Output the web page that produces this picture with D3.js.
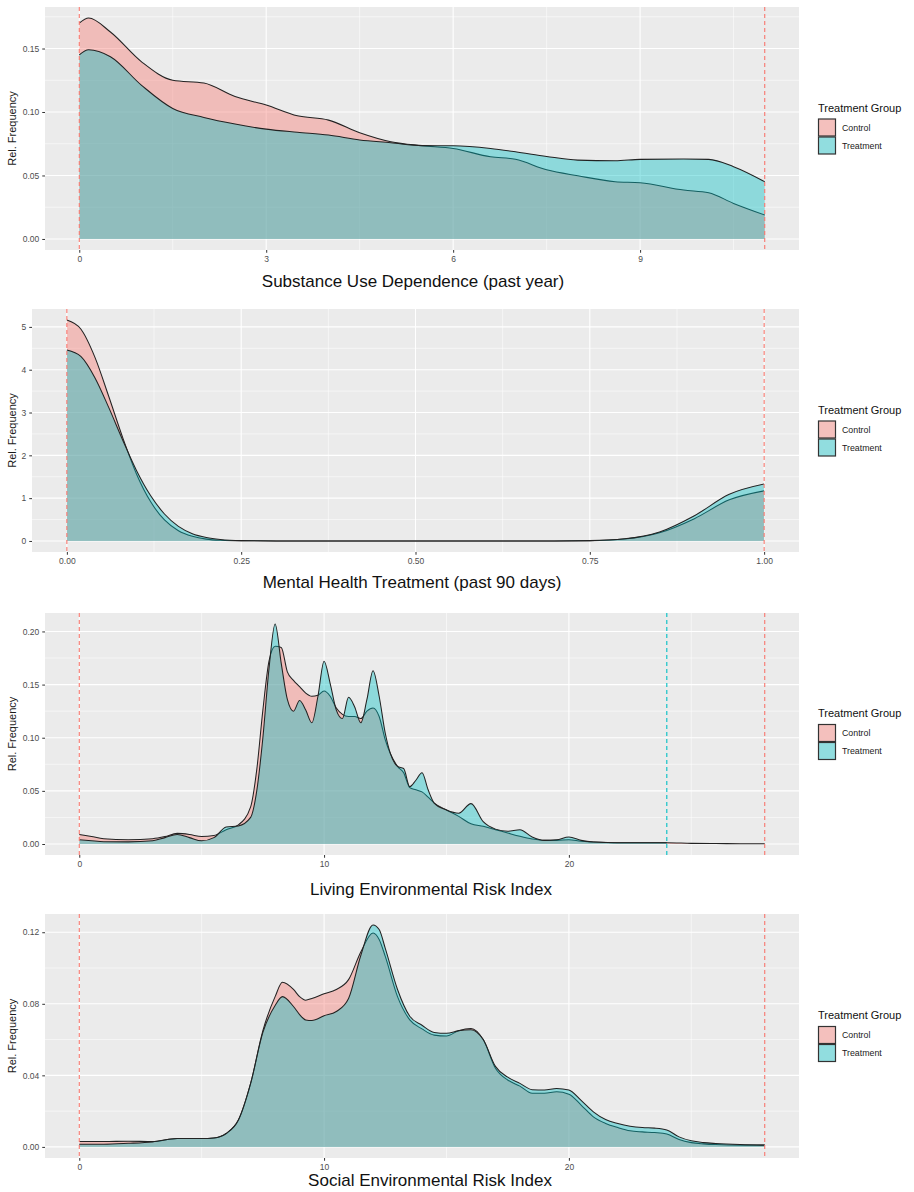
<!DOCTYPE html>
<html lang="en">
<head>
<meta charset="utf-8">
<title>Densities by treatment group</title>
<script src="https://cdn.jsdelivr.net/npm/d3@7"></script>
<style>
  body { margin: 0; background: #fff; }
  svg text { font-family: "Liberation Sans", Arial, Helvetica, sans-serif; }
</style>
</head>
<body>
<script>
// groups
var groups = ["Control", "Treatment"];
var groupColors = ["#F8766D", "#00BFC4"];
var legendTitle = "Treatment Group";
var yTitle = "Rel. Frequency";

// panel 1: substance use
var p1Title = "Substance Use Dependence (past year)";
var p1X = [0, 0.15, 0.5, 1, 1.5, 2, 2.5, 3, 3.5, 4, 4.5, 5, 5.5, 6, 6.6, 7, 7.5, 8, 8.6, 9, 9.7, 10.1, 10.5, 11];
var p1Control = [0.170, 0.174, 0.163, 0.1395, 0.125, 0.1228, 0.1122, 0.1055, 0.097, 0.0936, 0.0837, 0.0766, 0.0735, 0.0713, 0.0647, 0.0627, 0.0545, 0.0498, 0.0451, 0.0443, 0.0385, 0.0364, 0.028, 0.0189];
var p1Treatment = [0.145, 0.149, 0.1435, 0.121, 0.1028, 0.0957, 0.0905, 0.0865, 0.084, 0.0818, 0.0779, 0.0758, 0.0735, 0.0734, 0.0713, 0.0687, 0.065, 0.0621, 0.0616, 0.0627, 0.0629, 0.0627, 0.0569, 0.0451];
var p1XTicks = [0, 3, 6, 9];
var p1XMinor = [1.5, 4.5, 7.5, 10.5];
var p1YTicks = [0, 0.05, 0.10, 0.15];
var p1YMinor = [0.025, 0.075, 0.125, 0.175];

// panel 2: mental health treatment
var p2Title = "Mental Health Treatment (past 90 days)";
var p2X = [0, 0.02, 0.04, 0.06, 0.08, 0.1, 0.12, 0.14, 0.16, 0.18, 0.2, 0.22, 0.25, 0.3, 0.4, 0.5, 0.6, 0.7, 0.75, 0.8, 0.85, 0.9, 0.95, 1];
var p2Control = [5.16, 4.95, 4.3, 3.38, 2.42, 1.56, 0.92, 0.49, 0.24, 0.11, 0.043, 0.016, 0.004, 0.001, 0, 0, 0, 0.001, 0.007, 0.045, 0.19, 0.52, 0.96, 1.17];
var p2Treatment = [4.46, 4.31, 3.82, 3.12, 2.36, 1.64, 1.06, 0.63, 0.34, 0.17, 0.082, 0.035, 0.008, 0.001, 0, 0, 0, 0.001, 0.008, 0.05, 0.21, 0.59, 1.09, 1.33];
var p2XTicks = [0, 0.25, 0.5, 0.75, 1];
var p2XMinor = [0.125, 0.375, 0.625, 0.875];
var p2YTicks = [0, 1, 2, 3, 4, 5];
var p2YMinor = [0.5, 1.5, 2.5, 3.5, 4.5];

// panel 3: living environment
var p3Title = "Living Environmental Risk Index";
var p3X = [0, 0.5, 1, 2, 3, 3.5, 4, 4.5, 5, 5.5, 6, 6.5, 7, 7.25, 7.5, 7.75, 8, 8.25, 8.5, 8.75, 9, 9.25, 9.5, 9.75, 10, 10.25, 10.5, 10.75, 11, 11.25, 11.5, 11.75, 12, 12.25, 12.5, 13, 13.25, 13.5, 13.75, 14, 14.25, 14.5, 15, 15.5, 16, 16.5, 17, 17.5, 18, 18.5, 19, 19.5, 20, 20.5, 21, 22, 23, 24, 25, 26, 27, 28];
var p3Control = [0.009, 0.007, 0.005, 0.004, 0.005, 0.007, 0.010, 0.009, 0.007, 0.008, 0.0135, 0.018, 0.035, 0.07, 0.126, 0.172, 0.186, 0.185, 0.162, 0.154, 0.148, 0.142, 0.139, 0.140, 0.144, 0.139, 0.128, 0.122, 0.120, 0.120, 0.118, 0.125, 0.128, 0.120, 0.098, 0.073, 0.067, 0.053, 0.051, 0.049, 0.044, 0.0385, 0.032, 0.026, 0.019, 0.0166, 0.0135, 0.0103, 0.0072, 0.0047, 0.0034, 0.0034, 0.004, 0.0025, 0.0019, 0.0012, 0.0012, 0.0012, 0.0006, 0.0004, 0.0003, 0.0003];
var p3Treatment = [0.004, 0.003, 0.0022, 0.002, 0.003, 0.006, 0.009, 0.006, 0.003, 0.006, 0.016, 0.017, 0.025, 0.05, 0.10, 0.165, 0.207, 0.170, 0.136, 0.125, 0.135, 0.126, 0.114, 0.139, 0.172, 0.151, 0.126, 0.118, 0.138, 0.129, 0.114, 0.136, 0.163, 0.139, 0.104, 0.073, 0.071, 0.054, 0.060, 0.067, 0.051, 0.0385, 0.032, 0.029, 0.038, 0.021, 0.014, 0.012, 0.0135, 0.0066, 0.0034, 0.004, 0.0066, 0.0034, 0.0019, 0.0012, 0.0012, 0.0012, null, null, null, null];
var p3XTicks = [0, 10, 20];
var p3XMinor = [5, 15, 25];
var p3YTicks = [0, 0.05, 0.10, 0.15, 0.20];
var p3YMinor = [0.025, 0.075, 0.125, 0.175];

// panel 4: social environment
var p4Title = "Social Environmental Risk Index";
var p4X = [0, 1, 2, 3, 4, 5, 5.5, 6, 6.5, 7, 7.5, 8, 8.3, 8.75, 9, 9.25, 9.5, 10, 10.5, 11, 11.5, 12, 12.25, 12.5, 13, 13.5, 14, 14.5, 15, 15.5, 16, 16.5, 17, 17.5, 18, 18.5, 19, 19.5, 20, 20.5, 21, 21.5, 22, 22.5, 23, 23.5, 24, 24.5, 25, 25.5, 26, 27, 28];
var p4Control = [0.003, 0.003, 0.0032, 0.003, 0.0047, 0.0047, 0.005, 0.0075, 0.015, 0.0355, 0.065, 0.084, 0.092, 0.088, 0.084, 0.082, 0.083, 0.0856, 0.088, 0.0935, 0.109, 0.1196, 0.116, 0.1065, 0.084, 0.071, 0.066, 0.0625, 0.062, 0.065, 0.0662, 0.060, 0.044, 0.0374, 0.034, 0.030, 0.030, 0.0308, 0.0295, 0.0234, 0.0168, 0.0131, 0.0108, 0.009, 0.0084, 0.008, 0.0072, 0.0041, 0.0024, 0.0017, 0.0013, 0.001, 0.001];
var p4Treatment = [0.0015, 0.0015, 0.002, 0.0028, 0.0047, 0.0047, 0.005, 0.0075, 0.015, 0.0355, 0.064, 0.079, 0.084, 0.0785, 0.074, 0.071, 0.0707, 0.0733, 0.0757, 0.083, 0.107, 0.124, 0.1215, 0.111, 0.088, 0.073, 0.068, 0.064, 0.0635, 0.065, 0.0655, 0.060, 0.045, 0.039, 0.0355, 0.032, 0.0318, 0.0327, 0.0318, 0.026, 0.0196, 0.0153, 0.0131, 0.0116, 0.0108, 0.0105, 0.0095, 0.0056, 0.0034, 0.0024, 0.0019, 0.0013, 0.001];
var p4XTicks = [0, 10, 20];
var p4XMinor = [5, 15, 25];
var p4YTicks = [0, 0.04, 0.08, 0.12];
var p4YMinor = [0.02, 0.06, 0.10];

var panels = [
  { title: p1Title, x: p1X, series: [p1Control, p1Treatment], xTicks: p1XTicks, xMinor: p1XMinor, yTicks: p1YTicks, yMinor: p1YMinor, xFmt: "d", yFmt: ".2f" },
  { title: p2Title, x: p2X, series: [p2Control, p2Treatment], xTicks: p2XTicks, xMinor: p2XMinor, yTicks: p2YTicks, yMinor: p2YMinor, xFmt: ".2f", yFmt: "d" },
  { title: p3Title, x: p3X, series: [p3Control, p3Treatment], xTicks: p3XTicks, xMinor: p3XMinor, yTicks: p3YTicks, yMinor: p3YMinor, xFmt: "d", yFmt: ".2f" },
  { title: p4Title, x: p4X, series: [p4Control, p4Treatment], xTicks: p4XTicks, xMinor: p4XMinor, yTicks: p4YTicks, yMinor: p4YMinor, xFmt: "d", yFmt: ".2f" }
];

// where each panel sits on the page
var layout = [
  { top: 7, bottom: 250, left: 45, titleX: 413, titleY: 287 },
  { top: 309, bottom: 552, left: 32, titleX: 412, titleY: 588 },
  { top: 613, bottom: 855, left: 45, titleX: 431, titleY: 895 },
  { top: 914, bottom: 1158, left: 45, titleX: 430, titleY: 1186 }
];
var plotRight = 799;
var alpha = 0.4;

var svg = d3.select("body").append("svg")
  .attr("width", 914)
  .attr("height", 1192);

panels.forEach(function(p, i) {
  var L = layout[i];
  var xExt = d3.extent(p.x);
  var xPad = (xExt[1] - xExt[0]) * 0.05;
  var x = d3.scaleLinear().domain([xExt[0] - xPad, xExt[1] + xPad]).range([L.left, plotRight]);
  var yMax = d3.max(p.series, function(s) { return d3.max(s); });
  var y = d3.scaleLinear().domain([-yMax * 0.05, yMax * 1.05]).range([L.bottom, L.top]);

  var g = svg.append("g");

  // panel background + grid
  g.append("rect")
    .attr("x", L.left).attr("y", L.top)
    .attr("width", plotRight - L.left).attr("height", L.bottom - L.top)
    .attr("fill", "#EBEBEB");

  g.selectAll(".xminor").data(p.xMinor).enter().append("line")
    .attr("x1", x).attr("x2", x).attr("y1", L.top).attr("y2", L.bottom)
    .attr("stroke", "#fff").attr("stroke-width", 0.55);
  g.selectAll(".yminor").data(p.yMinor).enter().append("line")
    .attr("x1", L.left).attr("x2", plotRight).attr("y1", y).attr("y2", y)
    .attr("stroke", "#fff").attr("stroke-width", 0.55);
  g.selectAll(".xmajor").data(p.xTicks).enter().append("line")
    .attr("x1", x).attr("x2", x).attr("y1", L.top).attr("y2", L.bottom)
    .attr("stroke", "#fff").attr("stroke-width", 1.1);
  g.selectAll(".ymajor").data(p.yTicks).enter().append("line")
    .attr("x1", L.left).attr("x2", plotRight).attr("y1", y).attr("y2", y)
    .attr("stroke", "#fff").attr("stroke-width", 1.1);

  // densities
  p.series.forEach(function(s, k) {
    var pts = p.x.map(function(v, j) { return { x: v, y: s[j] }; });
    var area = d3.area()
      .defined(function(d) { return d.y != null; })
      .x(function(d) { return x(d.x); })
      .y0(y(0))
      .y1(function(d) { return y(d.y); })
      .curve(d3.curveMonotoneX);
    var line = d3.line()
      .defined(function(d) { return d.y != null; })
      .x(function(d) { return x(d.x); })
      .y(function(d) { return y(d.y); })
      .curve(d3.curveMonotoneX);
    g.append("path").datum(pts).attr("d", area)
      .attr("fill", groupColors[k]).attr("fill-opacity", alpha);
    g.append("path").datum(pts).attr("d", line)
      .attr("fill", "none").attr("stroke", "#222").attr("stroke-width", 1.05);
  });

  // dashed lines at each group's min / max; where both groups share a bound only the control line shows
  var ctrlExt = d3.extent(p.x.filter(function(v, j) { return p.series[0][j] != null; }));
  var trtExt = d3.extent(p.x.filter(function(v, j) { return p.series[1][j] != null; }))
    .filter(function(v) { return ctrlExt.indexOf(v) < 0; });
  [[trtExt, 1], [ctrlExt, 0]].forEach(function(e) {
    g.selectAll(".vl" + e[1]).data(e[0]).enter().append("line")
      .attr("x1", x).attr("x2", x).attr("y1", L.top).attr("y2", L.bottom)
      .attr("stroke", groupColors[e[1]]).attr("stroke-width", 1.1)
      .attr("stroke-dasharray", "4,3");
  });

  // axes
  var ax = g.append("g").attr("transform", "translate(0," + L.bottom + ")")
    .call(d3.axisBottom(x).tickValues(p.xTicks).tickFormat(d3.format(p.xFmt)).tickSize(2.75).tickPadding(3));
  var ay = g.append("g").attr("transform", "translate(" + L.left + ",0)")
    .call(d3.axisLeft(y).tickValues(p.yTicks).tickFormat(d3.format(p.yFmt)).tickSize(2.75).tickPadding(3));
  [ax, ay].forEach(function(a) {
    a.select(".domain").remove();
    a.selectAll(".tick line").attr("stroke", "#333");
    a.selectAll(".tick text").attr("fill", "#4D4D4D").style("font-size", "8.5px");
  });

  // titles
  g.append("text")
    .attr("x", L.titleX).attr("y", L.titleY)
    .attr("text-anchor", "middle")
    .style("font-size", "17px").attr("fill", "#111")
    .text(p.title);
  var cy = (L.top + L.bottom) / 2;
  g.append("text")
    .attr("transform", "translate(16," + cy + ") rotate(-90)")
    .attr("text-anchor", "middle")
    .style("font-size", "11px").attr("fill", "#1a1a1a")
    .text(yTitle);

  // legend
  var lg = g.append("g").attr("transform", "translate(818," + (cy - 10) + ")");
  lg.append("text").attr("x", 0).attr("y", -7)
    .style("font-size", "11px").attr("fill", "#111")
    .text(legendTitle);
  groups.forEach(function(name, k) {
    lg.append("rect").attr("x", 0.5).attr("y", k * 18 + 0.5).attr("width", 17).attr("height", 17)
      .attr("fill", "#F2F2F2");
    lg.append("rect").attr("x", 0.5).attr("y", k * 18 + 0.5).attr("width", 17).attr("height", 17)
      .attr("fill", groupColors[k]).attr("fill-opacity", alpha)
      .attr("stroke", "#333").attr("stroke-width", 1.2);
    lg.append("text").attr("x", 24).attr("y", k * 18 + 12)
      .style("font-size", "8.8px").attr("fill", "#1a1a1a")
      .text(name);
  });
});
</script>
</body>
</html>
